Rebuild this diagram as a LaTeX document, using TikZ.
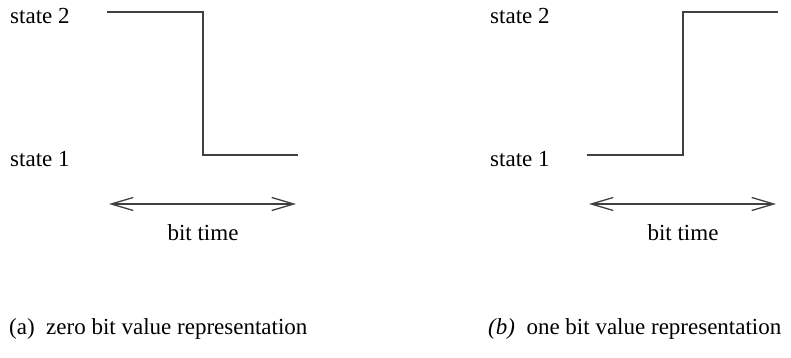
\documentclass[tikz,border=0pt]{standalone}
\usepackage{fontspec}
\setmainfont{Liberation Serif}
\usetikzlibrary{arrows.meta}
\begin{document}
\begin{tikzpicture}[x=1pt,y=-1pt,
  lbl/.style={inner sep=0pt,font=\fontsize{23}{26}\selectfont},
  sig/.style={draw=black!75,line width=1.3pt},
  span/.style={draw=black!75,line width=1.3pt,{Straight Barb[length=22pt,width=13pt]}-{Straight Barb[length=22pt,width=13pt]}}]
\useasboundingbox (0,0) rectangle (791,358);
% left panel
\node[lbl,anchor=base west] (s2a) at (10,24) {state 2};
\node[lbl,anchor=base west] (s1a) at (10,167) {state 1};
\coordinate (a1) at (107,12);
\coordinate (a2) at (203,12);
\coordinate (a3) at (203,155);
\coordinate (a4) at (298,155);
\draw[sig] (a1) -- (a2) -- (a3) -- (a4);
\coordinate (al) at (109,204);
\coordinate (ar) at (296,204);
\draw[span] (al) -- (ar);
\node[lbl,anchor=base] (bta) at (203,240) {bit time};
\node[lbl,anchor=base west] (capa) at (9,334) {(a)\enspace zero bit value representation};
% right panel
\node[lbl,anchor=base west] (s2b) at (490,24) {state 2};
\node[lbl,anchor=base west] (s1b) at (490,167) {state 1};
\coordinate (b1) at (587,155);
\coordinate (b2) at (683,155);
\coordinate (b3) at (683,12);
\coordinate (b4) at (778,12);
\draw[sig] (b1) -- (b2) -- (b3) -- (b4);
\coordinate (bl) at (589,204);
\coordinate (br) at (776,204);
\draw[span] (bl) -- (br);
\node[lbl,anchor=base] (btb) at (683,240) {bit time};
\node[lbl,anchor=base west] (capb) at (488,334) {\textit{(b)}\enspace one bit value representation};
\end{tikzpicture}
\end{document}
